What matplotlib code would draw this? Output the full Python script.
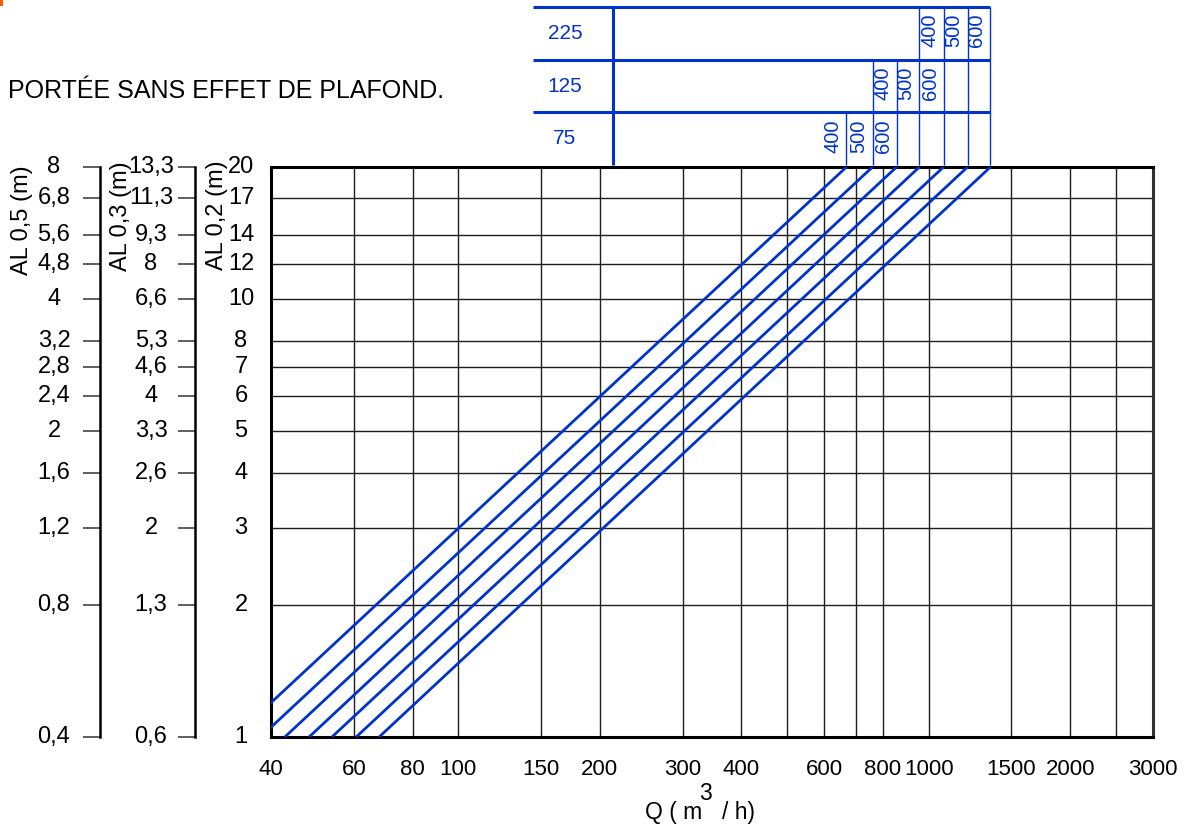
import matplotlib
matplotlib.use('Agg')
import matplotlib.pyplot as plt
from matplotlib import transforms
from matplotlib.patches import Rectangle
from matplotlib.ticker import NullLocator

# flow axis (m3/h): labelled ticks and extra unlabelled grid lines
q_ticks = [40, 60, 80, 100, 150, 200, 300, 400, 600, 800, 1000, 1500, 2000, 3000]
q_grid_extra = [500, 700, 2500]

# throw axes, all three share the same positions (AL 0,2 values)
al02_ticks = [1, 2, 3, 4, 5, 6, 7, 8, 10, 12, 14, 17, 20]
al02_labels = ['1', '2', '3', '4', '5', '6', '7', '8', '10', '12', '14', '17', '20']
al03_labels = ['0,6', '1,3', '2', '2,6', '3,3', '4', '4,6', '5,3', '6,6', '8', '9,3', '11,3', '13,3']
al05_labels = ['0,4', '0,8', '1,2', '1,6', '2', '2,4', '2,8', '3,2', '4', '4,8', '5,6', '6,8', '8']

# diagonal lines: Q read where each line meets AL0,2 = 1 m and AL0,2 = 20 m
line_al = [1, 20]
line_q_start = [33.4, 38.0, 42.8, 48.2, 53.9, 60.7, 67.9]
line_q_end = [669, 760, 855, 956, 1076, 1210, 1354]

# table above the chart: size rows, speed labels, index of the line for the first label
row_sizes = ['75', '125', '225']
speeds = ['400', '500', '600']
row_first_line = [0, 2, 4]

BLUE = '#0033cc'
FONT = 'Liberation Sans'
W, H = 1186, 827

plt.rcParams['font.family'] = [FONT, 'DejaVu Sans']


def px(x):
    return x / W


def py(y):
    return 1 - y / H


fig = plt.figure(figsize=(W / 100, H / 100), dpi=100)
ax_rect = [px(271), py(737), px(1153) - px(271), py(167) - py(737)]
ax = fig.add_axes(ax_rect)
ax.set_xscale('log')
ax.set_yscale('log')
ax.set_xlim(40, 3000)
ax.set_ylim(1, 20)

for q in q_ticks[1:-1] + q_grid_extra:
    ax.axvline(q, color='#1e1e1e', lw=1, zorder=1)
for a in al02_ticks[1:-1]:
    ax.axhline(a, color='#1e1e1e', lw=1, zorder=1)

for qs, qe in zip(line_q_start, line_q_end):
    ax.plot([qs, qe], line_al, color=BLUE, lw=2, zorder=3, solid_capstyle='butt')

ax.set_xticks(q_ticks)
ax.set_xticklabels([str(q) for q in q_ticks], fontsize=16)
ax.xaxis.set_minor_locator(NullLocator())
ax.tick_params(axis='x', length=0, pad=16)
ax.set_yticks([])
ax.yaxis.set_minor_locator(NullLocator())
for sp in ax.spines.values():
    sp.set_linewidth(2.2)
    sp.set_color('black')
ax.spines['right'].set_color('#333333')

# left scales
trans_lab = transforms.blended_transform_factory(fig.transFigure, ax.transData)


def scale_column(x_spine, x_text, labels):
    if x_spine is not None:
        sax = fig.add_axes([px(x_spine), ax_rect[1], 1e-4, ax_rect[3]])
        sax.set_yscale('log')
        sax.set_ylim(1, 20)
        sax.set_yticks(al02_ticks)
        sax.set_yticklabels([])
        sax.yaxis.set_minor_locator(NullLocator())
        sax.set_xticks([])
        sax.tick_params(axis='y', length=12, width=1.2, color='#444444', direction='out')
        for k in ['right', 'top', 'bottom']:
            sax.spines[k].set_visible(False)
        sax.spines['left'].set_linewidth(1.8)
        sax.patch.set_visible(False)
    for a, lab in zip(al02_ticks, labels):
        ax.text(px(x_text), a, lab, transform=trans_lab, ha='center', va='center',
                fontsize=17, clip_on=False)


scale_column(100, 54, al05_labels)
scale_column(195, 151, al03_labels)
scale_column(None, 241, al02_labels)

fig.text(px(22), py(220), 'AL 0,5 (m)', rotation=90, ha='center', va='center', fontsize=17)
fig.text(px(121), py(216), 'AL 0,3 (m)', rotation=90, ha='center', va='center', fontsize=17)
fig.text(px(217), py(215), 'AL 0,2 (m)', rotation=90, ha='center', va='center', fontsize=17)

fig.text(px(8), py(91), 'PORTÉE SANS EFFET DE PLAFOND.', ha='left', va='center', fontsize=18)

# x axis title with the raised exponent
fig.text(px(645), py(812), 'Q ( m', ha='left', va='center', fontsize=16.5)
fig.text(px(705), py(793), '3', ha='center', va='center', fontsize=16.5)
fig.text(px(755), py(812), '/ h)', ha='right', va='center', fontsize=16.5)

# table above the chart, sharing the flow scale
tax = fig.add_axes([ax_rect[0], py(165), ax_rect[2], py(7) - py(165)], sharex=ax)
tax.set_ylim(0, 3)
tax.axis('off')
span = 3000 / 40
q_left = 40 * span ** ((533 - 271) / 882)
q_div = 40 * span ** ((613 - 271) / 882)
q_rowlab = 40 * span ** ((565 - 271) / 882)

tax.hlines([1, 2, 3], q_left, line_q_end[-1], color=BLUE, lw=2.2, clip_on=False)
tax.vlines(q_div, 0, 3, color=BLUE, lw=2.2, clip_on=False)
txt_trans = transforms.offset_copy(tax.transData, fig=fig, x=-4, y=0, units='dots')
for r, first in enumerate(row_first_line):
    for i in range(max(first - 1, 0), len(line_q_end)):
        tax.vlines(line_q_end[i], r, r + 1, color=BLUE, lw=1, clip_on=False)
    for j, s in enumerate(speeds):
        tax.text(line_q_end[first + j], r + 0.55, s, rotation=90, ha='right', va='center',
                 color=BLUE, fontsize=14.5, transform=txt_trans, clip_on=False)
    tax.text(q_rowlab, r + 0.5, row_sizes[r], ha='center', va='center',
             color=BLUE, fontsize=15, clip_on=False)

# small orange mark in the top-left corner
fig.patches.append(Rectangle((0, py(6)), px(2.5), 6 / H, transform=fig.transFigure,
                             color='#ff5a00', lw=0))

fig.savefig('out.png', dpi=100)
